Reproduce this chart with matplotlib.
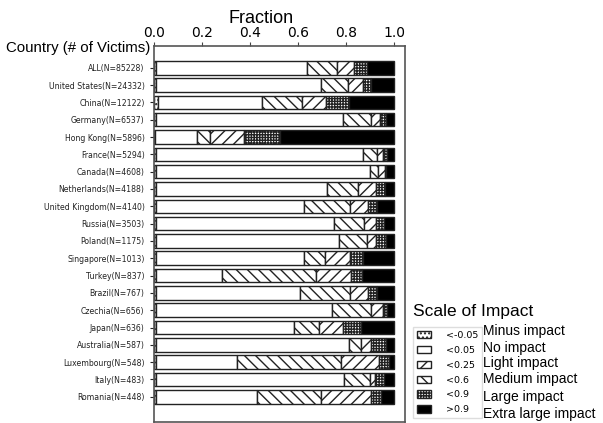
import matplotlib
matplotlib.use('Agg')
from matplotlib import pyplot as plt
from matplotlib.patches import Patch
import numpy as np

# countries and number of victims
countries = ['ALL', 'United States', 'China', 'Germany', 'Hong Kong', 'France',
             'Canada', 'Netherlands', 'United Kingdom', 'Russia', 'Poland',
             'Singapore', 'Turkey', 'Brazil', 'Czechia', 'Japan', 'Australia',
             'Luxembourg', 'Italy', 'Romania']
victims = [85228, 24332, 12122, 6537, 5896, 5294, 4608, 4188, 4140, 3503,
           1175, 1013, 837, 767, 656, 636, 587, 548, 483, 448]

# fraction of victims in each impact class (bar order, left to right)
minus_impact = [.005, .005, .015, .005, .003, .005, .005, .005, .005, .005,
                .005, .005, .005, .005, .005, .005, .005, .005, .005, .005]
no_impact = [.631, .692, .434, .784, .174, .864, .895, .717, .620, .745,
             .767, .620, .276, .603, .735, .578, .807, .339, .788, .425]
medium_impact = [.125, .111, .167, .114, .055, .059, .035, .129, .192, .125,
                 .114, .087, .392, .209, .164, .104, .049, .434, .107, .264]
light_impact = [.072, .061, .099, .039, .141, .027, .027, .073, .076, .050,
                .039, .105, .149, .076, .051, .102, .044, .159, .022, .211]
large_impact = [.053, .034, .097, .025, .151, .017, .005, .038, .037, .035,
                .042, .055, .045, .035, .015, .075, .062, .041, .038, .040]
extra_impact = [.114, .097, .188, .033, .476, .028, .033, .038, .070, .040,
                .033, .128, .133, .072, .030, .136, .033, .022, .040, .055]

legend_ranges = ['<-0.05', '<0.05', '<0.25', '<0.6', '<0.9', '>0.9']
legend_names = ['Minus impact', 'No impact', 'Light impact', 'Medium impact',
                'Large impact', 'Extra large impact']

plt.rcParams['hatch.linewidth'] = 1.0

fig = plt.figure(figsize=(6.03, 4.23), dpi=100)
ax = fig.add_axes([0.2559, 0.003, 0.4158, 0.888])

y = np.arange(len(countries))
series = [minus_impact, no_impact, medium_impact, light_impact, large_impact, extra_impact]
hatches = ['....', '', '\\\\\\', '///', '++++++', '']
faces = ['white', 'white', 'white', 'white', 'white', 'black']

left = np.zeros(len(countries))
for vals, h, fc in zip(series, hatches, faces):
    ax.barh(y, vals, left=left, height=0.78, color=fc, edgecolor='#222222',
            linewidth=1.0, hatch=h)
    left += np.array(vals)

ax.set_xlim(0, 1.046)
ax.set_ylim(20.44, -1.25)
ax.xaxis.tick_top()
ax.set_xticks([0, 0.2, 0.4, 0.6, 0.8, 1.0])
ax.set_xticklabels(['0.0', '0.2', '0.4', '0.6', '0.8', '1.0'], fontsize=10)
ax.tick_params(axis='x', length=3, pad=1.5, color='#444444')
ax.set_yticks(y)
ax.set_yticklabels(['%s(N=%d)' % (c, n) for c, n in zip(countries, victims)],
                   fontsize=5.6, color='#222222')
ax.tick_params(axis='y', length=3, pad=4, color='#222222')
for s in ax.spines.values():
    s.set_color('#555555')
    s.set_linewidth(1.2)

fig.text(261.5 / 603, 1 - 23 / 423, 'Fraction', family='Liberation Sans',
         fontsize=13, ha='center', va='baseline')
fig.text(150 / 603, 1 - 48 / 423, 'Country (# of Victims)', family='Liberation Sans',
         fontsize=10.8, ha='right', va='center')

# legend
leg_hatches = ['....', '', '///', '\\\\\\', '++++++', '']
handles = [Patch(facecolor=fc, edgecolor='#222222', hatch=h, linewidth=1.0)
           for h, fc in zip(leg_hatches, ['white'] * 5 + ['black'])]
fig.legend(handles, legend_ranges, loc='lower left',
           bbox_to_anchor=(413 / 603, 1 - 418 / 423), borderaxespad=0,
           fontsize=6.8, handlelength=1.5, handleheight=0.8, handletextpad=1.6,
           labelspacing=0.62, borderpad=0.4, frameon=True, fancybox=False,
           edgecolor='#dddddd', framealpha=1)
fig.text(413 / 603, 1 - 316 / 423, 'Scale of Impact', family='Liberation Sans',
         fontsize=12.5, ha='left', va='baseline')
name_y = [331, 347.7, 362.7, 379.3, 396.7, 414]
for yy, name in zip(name_y, legend_names):
    fig.text(483 / 603, 1 - yy / 423, name, family='Liberation Sans',
             fontsize=10, ha='left', va='center')

fig.savefig('out.png', dpi=100)
